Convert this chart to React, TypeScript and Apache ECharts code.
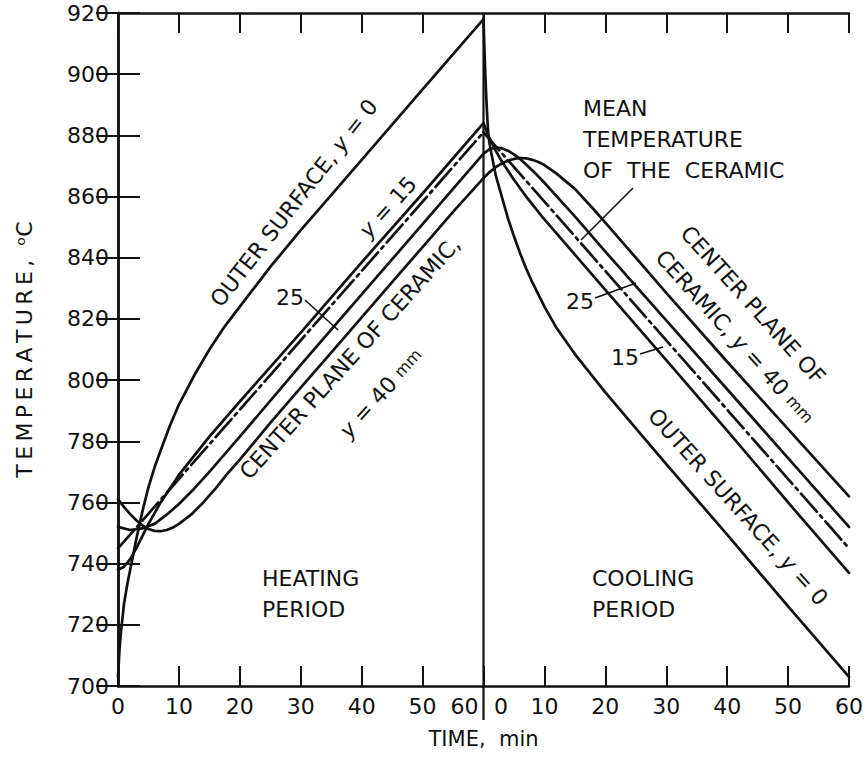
import React, { useEffect, useRef } from "react";
import * as echarts from "echarts";

// Time runs 0-60 min for heating, then 60-120 on the same axis for cooling
// (labelled 0-60 again on the right half).
const xTicks = [0, 10, 20, 30, 40, 50, 60, 70, 80, 90, 100, 110, 120];

// Outer surface, y = 0
const outerHeatTime = [0, 0.25, 0.5, 1, 1.5, 2, 3, 4, 5, 6, 7, 8.5, 10, 12.5, 15, 17.5, 20, 25, 30, 35, 40, 50, 60];
const outerHeatTemp = [703, 712, 718, 727, 733, 738, 748, 757, 765, 771.5, 777, 785, 792, 801.5, 810, 817.5, 824, 837, 849, 860.5, 872, 895, 918];
const outerCoolTime = [60, 60.2, 60.4, 60.6, 60.8, 61.1, 61.5, 62, 63, 64, 65, 66, 67, 68, 70, 72, 75, 80, 90, 100, 110, 120];
const outerCoolTemp = [918, 905, 895, 886.5, 880, 876, 872, 867, 860, 853, 847, 841.5, 836.5, 832, 824, 817, 808.5, 796, 772.5, 749.5, 726, 703];

// y = 15 mm
const y15HeatTime = [0, 1, 2, 3, 4, 5, 7, 10, 15, 20, 30, 40, 50, 60];
const y15HeatTemp = [738, 739, 741.5, 745, 749, 753, 760, 769, 781.5, 793, 815.5, 838.5, 861, 884];
const y15CoolTime = [60, 61, 62, 63, 64, 65, 67, 70, 75, 80, 90, 100, 110, 120];
const y15CoolTemp = [884, 879, 875, 871.5, 868.5, 865.5, 860, 852.5, 841, 829.5, 806.5, 783.5, 760, 737];

// y = 25 mm
const y25HeatTime = [0, 2, 4, 6, 8, 10, 12.5, 15, 20, 30, 40, 50, 60];
const y25HeatTemp = [752, 751, 751.5, 753, 756, 759.5, 764.5, 770, 781.5, 805, 828, 851, 874];
const y25CoolTime = [60, 61, 62, 63, 64, 65, 66, 67, 68.5, 70, 72.5, 75, 80, 90, 100, 110, 120];
const y25CoolTemp = [874, 875.5, 876, 875.8, 875, 873.8, 872.3, 870.5, 867.6, 864.5, 859, 853.5, 842, 819.5, 797, 774.5, 752];

// Center plane, y = 40 mm
const centerHeatTime = [0, 1, 2, 3, 4, 5, 6, 7, 8, 9, 10, 12, 14, 16, 18, 20, 25, 30, 35, 40, 45, 50, 55, 60];
const centerHeatTemp = [761, 758.5, 756.2, 754.2, 752.5, 751.3, 750.7, 750.6, 751, 751.8, 753, 756, 760, 764.5, 769.5, 774, 786, 797.5, 809, 820.5, 832, 843.5, 855, 866];
const centerCoolTime = [60, 61, 62, 63, 64, 65, 66, 67, 68, 69, 70, 72, 75, 78, 80, 85, 90, 100, 110, 120];
const centerCoolTemp = [866, 868, 869.6, 870.8, 871.7, 872.3, 872.6, 872.5, 872, 871.3, 870.3, 867.5, 862.5, 856, 851.5, 840, 828.5, 806, 784, 762];

// Mean temperature of the ceramic (straight rise, straight fall)
const meanHeatTime = [0, 60];
const meanHeatTemp = [745, 881];
const meanCoolTime = [60, 120];
const meanCoolTemp = [881, 745];

const FONT = "'DejaVu Sans', sans-serif";
const INK = "#111";
const TS = "\u2009"; // thin space for the spaced-out axis title

const pairs = (t: number[], v: number[]) => t.map((x, i) => [x, v[i]]);

function curve(name: string, t: number[], v: number[], dashed = false) {
  return {
    name,
    type: "line",
    data: pairs(t, v),
    showSymbol: false,
    smooth: false,
    lineStyle: {
      color: INK,
      width: 2.7,
      type: dashed ? [24, 5, 3, 5] : "solid",
      join: "round",
      cap: "round",
    },
    silent: true,
    z: 3,
  };
}

const it = { fontStyle: "italic", fontSize: 22, fontFamily: FONT, fill: INK };
const small = { fontSize: 16, fontFamily: FONT, fill: INK };

function label(text: string, x: number, y: number, rotDeg = 0, align = "center") {
  return {
    type: "text",
    x,
    y,
    rotation: (rotDeg * Math.PI) / 180,
    z: 10,
    style: {
      text,
      fontSize: 22,
      fontFamily: FONT,
      fill: INK,
      align,
      verticalAlign: "middle",
      rich: { i: it, s: small },
    },
  };
}

function pointer(x1: number, y1: number, x2: number, y2: number) {
  return {
    type: "line",
    z: 10,
    shape: { x1, y1, x2, y2 },
    style: { stroke: INK, lineWidth: 1.6 },
  };
}

export default function App() {
  const ref = useRef<HTMLDivElement>(null);

  useEffect(() => {
    if (!ref.current) return;
    const chart = echarts.init(ref.current, null, { renderer: "svg" });

    const axisFont = { fontSize: 22, fontFamily: FONT, color: INK };
    const axisLine = { show: true, lineStyle: { color: INK, width: 2.5 } };
    const tick = (len: number) => ({ show: true, inside: true, length: len, lineStyle: { color: INK, width: 2 } });

    chart.setOption({
      animation: false,
      backgroundColor: "#fff",
      grid: { left: 118, right: 9, top: 13, bottom: 71, containLabel: false },
      xAxis: [
        {
          type: "value",
          min: 0,
          max: 120,
          interval: 10,
          position: "bottom",
          axisLine,
          axisTick: tick(20),
          splitLine: { show: false },
          axisLabel: {
            ...axisFont,
            margin: 9,
            showMaxLabel: true,
            showMinLabel: true,
            customValues: xTicks,
            formatter: (v: number) => {
              if (v === 60) return "{a|60}{b|0}";
              return String(v > 60 ? v - 60 : v);
            },
            rich: {
              a: { ...axisFont, width: 26, align: "right", padding: [0, 6, 0, 0] },
              b: { ...axisFont, width: 29, align: "left", padding: [0, 0, 0, 3] },
            },
          },
          name: "TIME,  min",
          nameLocation: "middle",
          nameGap: 42,
          nameTextStyle: { fontSize: 21, fontFamily: FONT, color: INK },
        },
        {
          type: "value",
          min: 0,
          max: 120,
          interval: 10,
          position: "top",
          axisLine,
          axisTick: tick(20),
          axisLabel: { show: false },
          splitLine: { show: false },
        },
      ],
      yAxis: [
        {
          type: "value",
          min: 700,
          max: 920,
          interval: 20,
          position: "left",
          axisLine,
          axisTick: tick(22),
          splitLine: { show: false },
          axisLabel: { ...axisFont, margin: 9 },
          name: "TEMPERATURE,".split("").join(TS) + "  ᵒC",
          nameLocation: "middle",
          nameRotate: 90,
          nameGap: 83,
          nameTextStyle: { fontSize: 22, fontFamily: FONT, color: INK },
        },
        {
          type: "value",
          min: 700,
          max: 920,
          interval: 20,
          position: "right",
          axisLine,
          axisTick: tick(22),
          axisLabel: { show: false },
          splitLine: { show: false },
        },
      ],
      series: [
        curve("Outer surface (heating)", outerHeatTime, outerHeatTemp),
        curve("Outer surface (cooling)", outerCoolTime, outerCoolTemp),
        curve("y = 15 (heating)", y15HeatTime, y15HeatTemp),
        curve("y = 15 (cooling)", y15CoolTime, y15CoolTemp),
        curve("y = 25 (heating)", y25HeatTime, y25HeatTemp),
        curve("y = 25 (cooling)", y25CoolTime, y25CoolTemp),
        curve("Center plane (heating)", centerHeatTime, centerHeatTemp),
        curve("Center plane (cooling)", centerCoolTime, centerCoolTemp),
        curve("Mean temperature (heating)", meanHeatTime, meanHeatTemp, true),
        curve("Mean temperature (cooling)", meanCoolTime, meanCoolTemp, true),
      ],
    });

    // Divider between the heating and cooling periods, running down through the tick labels
    const xd = chart.convertToPixel({ xAxisIndex: 0 }, 60) as number;
    const yTop = chart.convertToPixel({ yAxisIndex: 0 }, 920) as number;
    const yBot = chart.convertToPixel({ yAxisIndex: 0 }, 700) as number;

    chart.setOption({
      graphic: [
        { type: "line", z: 9, shape: { x1: xd, y1: yTop, x2: xd, y2: yBot + 34 }, style: { stroke: INK, lineWidth: 2.2 } },

        // heating period
        label("OUTER SURFACE, {i|y} = 0", 294, 203, 52),
        label("{i|y} = 15", 388, 207, 48),
        label("25", 290, 297),
        pointer(305, 300, 338, 330),
        label("CENTER PLANE OF CERAMIC,", 350, 358, 48),
        label("{i|y} = 40 {s|mm}", 381, 393, 48),
        label("HEATING", 262, 578, 0, "left"),
        label("PERIOD", 262, 609, 0, "left"),

        // cooling period
        label("MEAN", 583, 108, 0, "left"),
        label("TEMPERATURE", 583, 139, 0, "left"),
        label("OF  THE  CERAMIC", 583, 170, 0, "left"),
        pointer(633, 188, 581, 240),
        label("CENTER PLANE OF", 753, 305, -48),
        label("CERAMIC, {i|y} = 40 {s|mm}", 735, 337, -48),
        label("25", 580, 301),
        pointer(595, 298, 636, 283),
        label("15", 625, 357),
        pointer(640, 354, 663, 347),
        label("OUTER SURFACE, {i|y} = 0", 738, 507, -48),
        label("COOLING", 592, 578, 0, "left"),
        label("PERIOD", 592, 609, 0, "left"),
      ],
    });

    return () => chart.dispose();
  }, []);

  return (
    <div
      ref={ref}
      style={{ position: "absolute", left: 0, top: 0, width: 866, height: 757, background: "#fff" }}
    />
  );
}
